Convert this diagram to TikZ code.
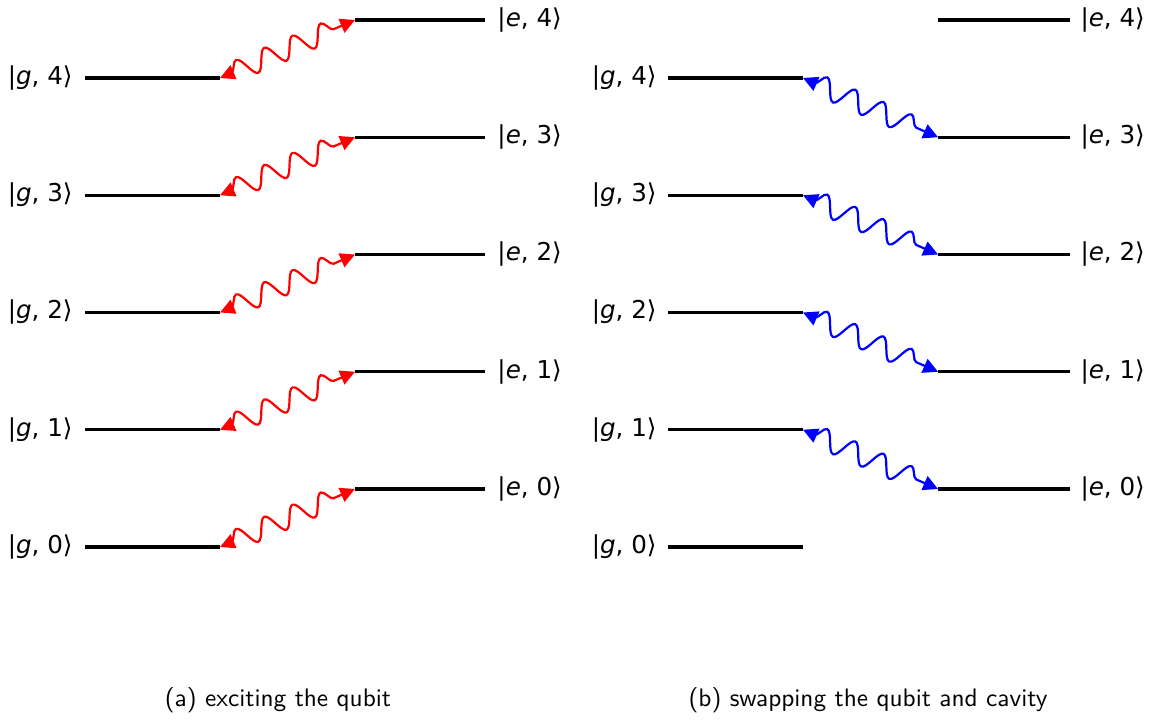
\documentclass[tikz,border=0pt]{standalone}
\usepackage{fontspec}
\setmainfont{DejaVu Sans}
\usepackage{tikz}
\usetikzlibrary{arrows.meta,decorations.pathmorphing}
\definecolor{pumpred}{HTML}{FF0000}
\definecolor{swapblue}{HTML}{0000FF}
\newcommand{\lvl}[2]{|\textit{#1}, #2⟩}

\begin{document}
\begin{tikzpicture}[
  x=1.43cm,y=1.43cm,
  level/.style={line width=1.25pt,draw=black},
  lbl/.style={font=\fontsize{10}{12}\selectfont,inner sep=0pt},
  photon/.style={line width=0.9pt,
    {Triangle[length=6pt,width=6pt]}-{Triangle[length=6pt,width=6pt]},
    decorate,decoration={snake,amplitude=4.2pt,segment length=12.5pt,
      pre length=5pt,post length=5pt}},
  caption/.style={font=\sffamily\fontsize{10.3}{12}\selectfont}
]
\useasboundingbox (0,0) rectangle (11.62,7.19);
% (a) exciting the qubit
\foreach \n in {0,...,4}{
  \pgfmathsetmacro{\yg}{1.72+1.1725*\n}
  \pgfmathsetmacro{\ye}{2.30+1.1725*\n}
  \coordinate (gaL\n) at (0.85,\yg);
  \coordinate (gaR\n) at (2.20,\yg);
  \coordinate (eaL\n) at (3.55,\ye);
  \coordinate (eaR\n) at (4.85,\ye);
  \node[lbl,anchor=east] (gal\n) at (0.73,\yg) {\lvl{g}{\n}};
  \node[lbl,anchor=west] (eal\n) at (4.97,\ye) {\lvl{e}{\n}};
  \draw[level] (gaL\n) -- (gaR\n);
  \draw[level] (eaL\n) -- (eaR\n);
  \draw[photon,pumpred] (gaR\n) -- (eaL\n);
}
\node[caption] (capa) at (2.78,0.19) {(a) exciting the qubit};

% (b) swapping the qubit and cavity
\foreach \n in {0,...,4}{
  \pgfmathsetmacro{\yg}{1.72+1.1725*\n}
  \pgfmathsetmacro{\ye}{2.30+1.1725*\n}
  \coordinate (gbL\n) at (6.68,\yg);
  \coordinate (gbR\n) at (8.03,\yg);
  \coordinate (ebL\n) at (9.38,\ye);
  \coordinate (ebR\n) at (10.70,\ye);
  \node[lbl,anchor=east] (gbl\n) at (6.57,\yg) {\lvl{g}{\n}};
  \node[lbl,anchor=west] (ebl\n) at (10.80,\ye) {\lvl{e}{\n}};
  \draw[level] (gbL\n) -- (gbR\n);
  \draw[level] (ebL\n) -- (ebR\n);
}
\foreach \n [evaluate=\n as \m using int(\n-1)] in {1,...,4}
  \draw[photon,swapblue] (gbR\n) -- (ebL\m);
\node[caption] (capb) at (8.68,0.19) {(b) swapping the qubit and cavity};
\end{tikzpicture}
\end{document}
